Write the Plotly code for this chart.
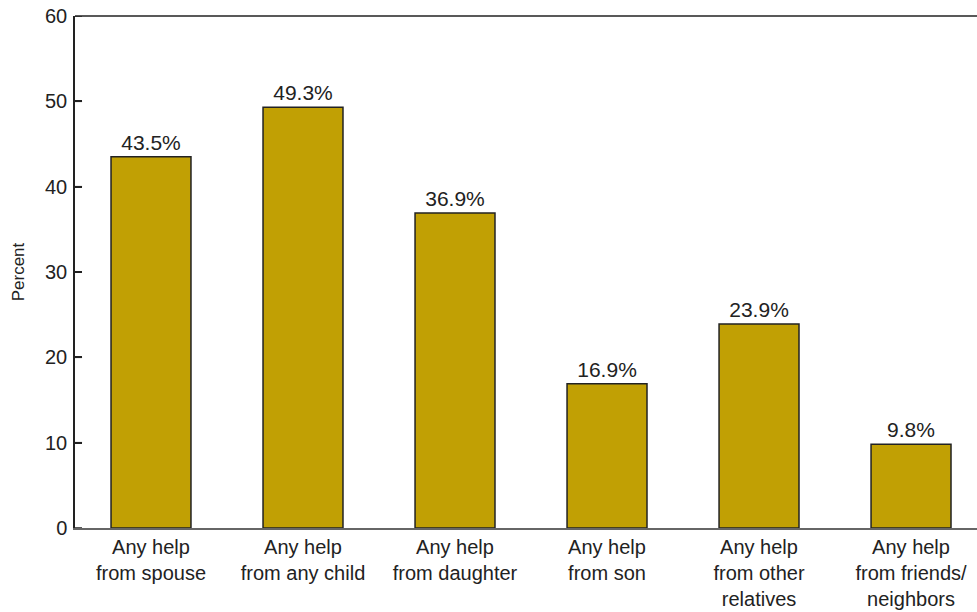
import plotly.graph_objects as go

categories = ["Any help<br>from spouse", "Any help<br>from any child", "Any help<br>from daughter",
              "Any help<br>from son", "Any help<br>from other<br>relatives", "Any help<br>from friends/<br>neighbors"]
values = [43.5, 49.3, 36.9, 16.9, 23.9, 9.8]
labels = ["43.5%", "49.3%", "36.9%", "16.9%", "23.9%", "9.8%"]
y_ticks = [0, 10, 20, 30, 40, 50, 60]

FONT = "Liberation Sans, Arial, sans-serif"

fig = go.Figure(go.Bar(
    x=categories, y=values, text=labels, textposition="outside",
    textfont=dict(size=21, color="#222"), cliponaxis=False,
    marker=dict(color="#C1A004", line=dict(color="#222", width=1.5)),
))

tick_shapes = [dict(type="line", xref="paper", yref="y", x0=0, x1=0.0078, y0=t, y1=t,
                    line=dict(color="#222", width=1.5), layer="above") for t in y_ticks]

fig.update_layout(
    width=977, height=612,
    margin=dict(l=75, r=0, t=16, b=84, autoexpand=False),
    plot_bgcolor="white", paper_bgcolor="white",
    font=dict(family=FONT, size=20, color="#222"),
    bargap=0.474, showlegend=False,
    xaxis=dict(range=[-0.5, 5.434], showline=True, linecolor="#666", linewidth=1.5,
               ticks="", tickfont=dict(size=20, color="#222"), showgrid=False, fixedrange=True,
               automargin=False),
    yaxis=dict(range=[0, 60], tickvals=y_ticks, showline=True, linecolor="#222", linewidth=1.5,
               ticks="inside", ticklen=7, tickcolor="#222", tickwidth=1.5, showgrid=False,
               zeroline=False, tickfont=dict(size=20, color="#222"), automargin=False,
               ticklabelstandoff=2,
               title=dict(text="Percent", font=dict(size=17, color="#222"), standoff=16)),
    shapes=[dict(type="line", xref="paper", yref="paper", x0=0, x1=1, y0=1, y1=1,
                 line=dict(color="#222", width=1.5))] + tick_shapes,
)

fig.write_html("out.html", config={"displayModeBar": False},
               post_script="document.body.style.margin='0';document.body.style.overflow='hidden';")
